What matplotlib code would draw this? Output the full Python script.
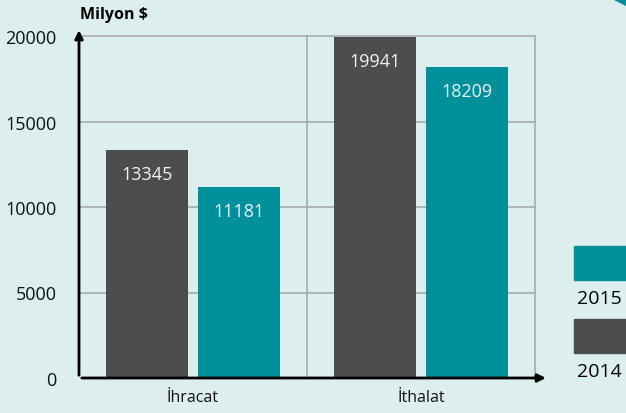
import matplotlib
matplotlib.use('Agg')
import matplotlib.pyplot as plt
from matplotlib.patches import Rectangle, Polygon
import numpy as np

categories = ['İhracat', 'İthalat']
years = ['2014', '2015']
values_2014 = [13345, 19941]
values_2015 = [11181, 18209]
yticks = [0, 5000, 10000, 15000, 20000]

bg = '#ddeeee'
dark = '#4d4d4f'
teal = '#00909c'

plt.rcParams['font.family'] = ['Open Sans', 'DejaVu Sans']

W, H = 626, 414
fig = plt.figure(figsize=(W / 100, H / 100), dpi=100, facecolor=bg)
ax = fig.add_axes([79 / W, 1 - 379 / H, (535 - 79) / W, (379 - 37) / H])
ax.set_facecolor(bg)

x = np.arange(len(categories))
w = 0.36
b1 = ax.bar(x - 0.2, values_2014, w, color=dark, zorder=3)
b2 = ax.bar(x + 0.2, values_2015, w, color=teal, zorder=3)

for bars in (b1, b2):
    for rect in bars:
        ax.annotate(str(int(rect.get_height())),
                    (rect.get_x() + rect.get_width() / 2, rect.get_height()),
                    xytext=(0, -24), textcoords='offset pixels',
                    ha='center', va='center', color='#f2f2f2', fontsize=13, zorder=4)

ax.set_xlim(-0.5, 1.5)
ax.set_ylim(0, 20000)
ax.set_yticks(yticks)
ax.set_yticklabels([str(v) for v in yticks], fontsize=13, color='#111111')
ax.set_xticks(x)
ax.set_xticklabels(categories, fontsize=11.5, color='#111111')
ax.tick_params(length=0, pad=8)
ax.tick_params(axis='y', pad=16)

# grid
for v in yticks[1:]:
    ax.axhline(v, color='#aaaaaa', lw=1.2, zorder=1, clip_on=False)
for v in [0.5, 1.5]:
    ax.axvline(v, color='#aaaaaa', lw=1.2, zorder=1, clip_on=False)
for s in ax.spines.values():
    s.set_visible(False)

# axes with arrows
ax.annotate('', xy=(0, 1.025), xytext=(0, 0), xycoords='axes fraction',
            arrowprops=dict(arrowstyle='-|>', color='black', lw=2, mutation_scale=12),
            annotation_clip=False, zorder=5)
ax.annotate('', xy=(1.03, 0), xytext=(0, 0), xycoords='axes fraction',
            arrowprops=dict(arrowstyle='-|>', color='black', lw=2, mutation_scale=12),
            annotation_clip=False, zorder=5)

fig.text(80 / W, 1 - 15 / H, 'Milyon $', fontsize=11.5, fontweight='bold', va='center', ha='left')

# legend (cut at right edge)
fig.patches.append(Rectangle((574 / W, 1 - 281 / H), 60 / W, 34 / H, color=teal, transform=fig.transFigure))
fig.text(577 / W, 1 - 299 / H, years[1], fontsize=14, va='center', ha='left')
fig.patches.append(Rectangle((574 / W, 1 - 354 / H), 60 / W, 34 / H, color=dark, transform=fig.transFigure))
fig.text(577 / W, 1 - 372 / H, years[0], fontsize=14, va='center', ha='left')

# corner decoration
fig.patches.append(Polygon([(614 / W, 1), (1, 1), (1, 1 - 6 / H)], closed=True,
                           color=teal, transform=fig.transFigure))

fig.savefig('out.png', dpi=100, facecolor=bg)
